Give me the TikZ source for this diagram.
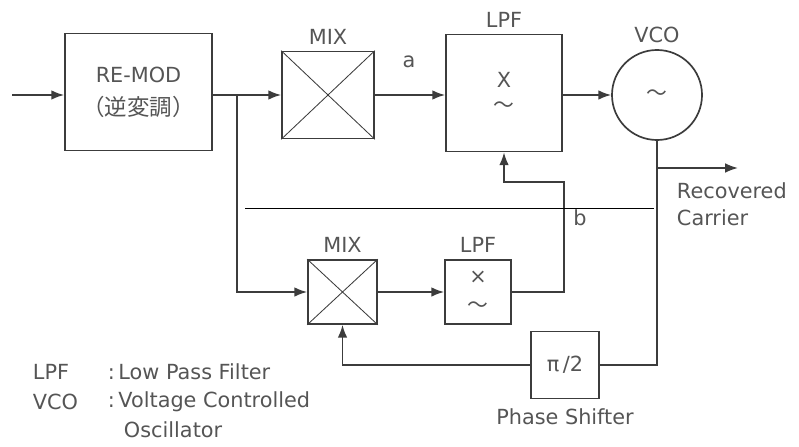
\documentclass[tikz,border=0pt]{standalone}
\usepackage{fontspec}
\setmainfont{DejaVu Sans}
\newfontfamily\jpfont{Noto Sans CJK JP}
\usetikzlibrary{arrows.meta,positioning}
\definecolor{WireGray}{HTML}{3C3C3C}
\definecolor{LabelGray}{HTML}{555555}
\tikzset{
  every node/.style={text=LabelGray, font=\fontsize{14.8}{19.5}\selectfont},
  block/.style={draw=WireGray, line width=1.2pt, fill=white, inner sep=0pt},
  wire/.style={draw=WireGray, line width=1.2pt},
  feed/.style={wire, -{Latex[length=3.2mm,width=2.4mm]}},
  marker/.style={inner sep=1pt},
}

\begin{document}
\begin{tikzpicture}[x=0.025cm,y=-0.025cm]
  \useasboundingbox (0,0) rectangle (799,446);
  % main row, y = 95
  \node[block, minimum width=3.675cm, minimum height=2.925cm, align=center]
    (remod) at (138.5,92) {RE-MOD\\[4pt]{\jpfont\fontsize{16}{19}\selectfont（逆変調）}};
  \node[block, minimum width=2.3cm, minimum height=2.175cm] (mixa) at (328,95) {};
  \node[block, minimum width=2.9cm, minimum height=2.925cm] (lpfa) at (504,93) {};
  \node[block, circle, minimum size=2.25cm] (vco) at (657,95) {\jpfont 〜};
  \node[above=1pt of mixa] (mixalbl) {MIX};
  \node[above=1pt of lpfa] (lpfalbl) {LPF};
  \node[above=1pt of vco] (vcolbl) {VCO};
  \node (lpfax) at (504,80) {X};
  \node (lpfaw) at (504,107) {\jpfont 〜};
  \draw[WireGray, line width=0.6pt] (mixa.north west) -- (mixa.south east);
  \draw[WireGray, line width=0.6pt] (mixa.north east) -- (mixa.south west);
  % lower row, y = 292
  \node[block, minimum width=1.725cm, minimum height=1.6cm] (mixb) at (342.5,292) {};
  \node[block, minimum width=1.65cm, minimum height=1.6cm] (lpfb) at (478,292) {};
  \node[block, minimum width=1.7cm, minimum height=1.675cm] (shift) at (565,365) {π\,/2};
  \node[above=1pt of mixb] (mixblbl) {MIX};
  \node[above=1pt of lpfb] (lpfblbl) {LPF};
  \node[below=3pt of shift] (shiftlbl) {Phase Shifter};
  \node (lpfbx) at (478,277) {×};
  \node (lpfbw) at (478,307) {\jpfont 〜};
  \draw[WireGray, line width=0.6pt] (mixb.north west) -- (mixb.south east);
  \draw[WireGray, line width=0.6pt] (mixb.north east) -- (mixb.south west);
  % connectors
  \coordinate (in) at (12,95);
  \coordinate (split) at (237,95);
  \coordinate (bend) at (564,182);
  \coordinate (tap) at (657,168);
  \coordinate (out) at (738,168);
  \draw[feed] (in) -- (remod.west |- in);
  \draw[feed] (remod.east |- in) -- (mixa);
  \draw[feed] (split) |- (mixb);
  \draw[feed] (mixa) -- (lpfa.west |- mixa);
  \draw[feed] (lpfa.east |- vco) -- (vco);
  \draw[feed] (mixb) -- (lpfb);
  \draw[feed] (lpfb.east) -| (bend) -| (lpfa.south);
  \draw[wire] (vco.south) |- (shift.east);
  \draw[feed] (tap) -- (out);
  \draw[feed] (shift.west) -| (mixb.south);
  \node[marker] (alabel) at (409,62) {a};
  \node[marker] (blabel) at (580,218) {b};
  \node[anchor=west, align=left] (carrier) at (672,204) {Recovered\\Carrier};
  \draw[black, line width=0.7pt] (245,208) -- (654,208);
  % legend
  \node[anchor=west] (lpfkey) at (28,372) {LPF};
  \node[anchor=west] (vcokey) at (28,402) {VCO};
  \node[anchor=west] (lpftext) at (103,372) {:\,Low Pass Filter};
  \node[anchor=west] (vcotext) at (103,402) {:\,Voltage Controlled};
  \node[anchor=west] (osctext) at (119,430) {Oscillator};
\end{tikzpicture}
\end{document}
